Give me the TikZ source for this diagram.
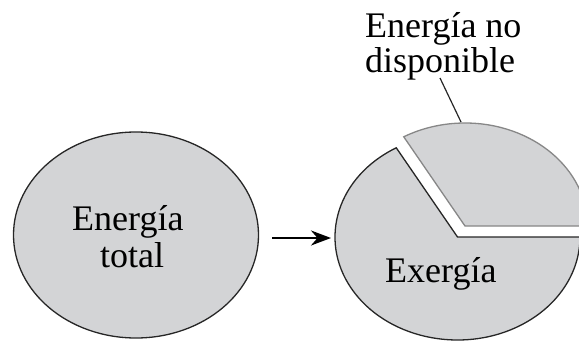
\documentclass[tikz,border=0pt]{standalone}
\usepackage{fontspec}
\setmainfont{Liberation Serif}
\usetikzlibrary{arrows.meta}
\definecolor{pie}{RGB}{211,212,214}
\definecolor{piegray}{RGB}{135,135,135}
\begin{document}
\begin{tikzpicture}[x=1pt,y=1pt,
  lbl/.style={font=\fontsize{36}{40}\selectfont, inner sep=0pt, anchor=base west},
  whole/.style={fill=pie, draw=black!85, line width=1.3pt},
  exer/.style={fill=pie, draw=black!85, line width=1.3pt, line join=miter},
  unav/.style={fill=pie, draw=piegray, line width=1.3pt, line join=miter},
  conn/.style={line width=2.2pt, -{Stealth[length=20pt,width=15pt]}},
  leader/.style={line width=1.2pt, draw=black!85}]
\useasboundingbox (0,0) rectangle (579,341);
\clip (0,0) rectangle (579,341);
% left whole energy
\draw[whole] (136,106) ellipse[x radius=122.5pt, y radius=103pt];
\node[lbl] (e1) at (72,111) {Energía};
\node[lbl] (t1) at (100,74) {total};
% arrow
\coordinate (a1) at (272,103);
\coordinate (a2) at (331,103);
\draw[conn] (a1) -- (a2);
% exergy piece
\coordinate (C) at (457.5,104);
\draw[exer] (C) -- ++(120:122.5pt and 103pt)
  arc[start angle=120, end angle=360, x radius=122.5pt, y radius=103pt] -- cycle;
% unavailable piece (shifted)
\begin{scope}[shift={(7.5,11)}]
\draw[unav] (457.5,104) -- ++(0:122.5pt and 103pt)
  arc[start angle=0, end angle=120, x radius=122.5pt, y radius=103pt] -- cycle;
\end{scope}
\node[lbl] (ex) at (385,59) {Exergía};
% label for unavailable energy
\node[lbl] (u1) at (365,304) {Energía no};
\node[lbl] (u2) at (365,269) {disponible};
\coordinate (l1) at (440,263);
\coordinate (l2) at (461,219);
\draw[leader] (l1) -- (l2);
\end{tikzpicture}
\end{document}
